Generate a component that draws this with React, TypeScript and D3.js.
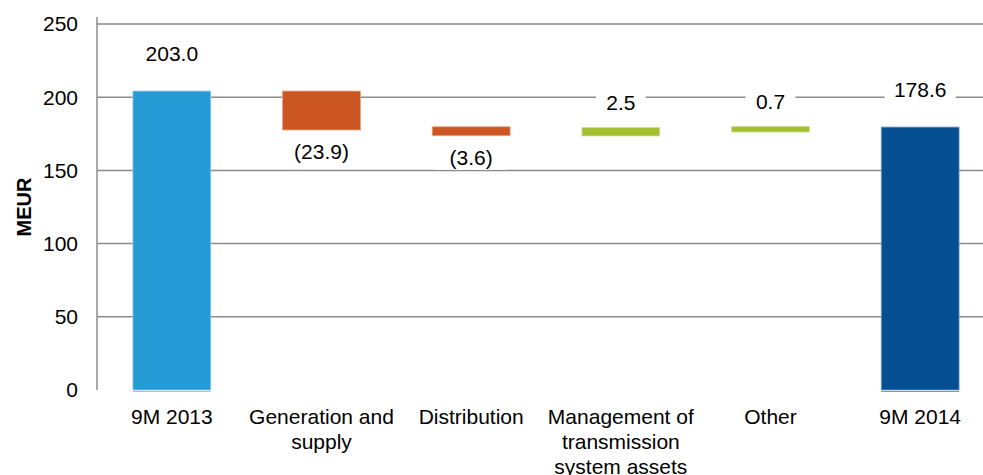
import React from 'react';
import * as d3 from 'd3';

// category labels (line breaks as in the source chart)
const categories = [
  '9M 2013',
  'Generation and\nsupply',
  'Distribution',
  'Management of\ntransmission\nsystem assets',
  'Other',
  '9M 2014',
];

// values shown in the data labels
const labelValues = [203.0, -23.9, -3.6, 2.5, 0.7, 178.6];
const kinds = ['total', 'down', 'down', 'up', 'up', 'total'];

// bar extents as drawn in the picture (MEUR)
const barLow = [0, 177.6, 173.7, 173.5, 176.2, 0];
const barHigh = [204.2, 204.2, 179.8, 179.4, 180.1, 179.6];

const yTicks = [0, 50, 100, 150, 200, 250];

const WIDTH = 983;
const HEIGHT = 475;
const FONT = '"Liberation Sans", Arial, sans-serif';

const fills: Record<string, string> = {
  first: '#259BD6',
  last: '#065092',
  down: '#CC5621',
  up: '#A4BF30',
};
const edges: Record<string, string> = {
  first: '#8FCBEC',
  last: '#6E9FD0',
  down: '#E8A384',
  up: '#D3E39A',
};

const fmt = (v: number) => (v < 0 ? `(${Math.abs(v).toFixed(1)})` : v.toFixed(1));

export default function App() {
  const x = d3.scaleBand<string>()
    .domain(categories)
    .range([97, 995])
    .paddingInner(0.48)
    .paddingOuter(0.24);

  const y = d3.scaleLinear().domain([0, 250]).range([390, 24]);

  const colorKey = (i: number) =>
    kinds[i] === 'total' ? (i === 0 ? 'first' : 'last') : kinds[i];

  return (
    <svg
      width={WIDTH}
      height={HEIGHT}
      style={{ position: 'absolute', left: 0, top: 0, display: 'block', background: '#fff' }}
      fontFamily={FONT}
    >
      {/* gridlines */}
      {yTicks.filter(t => t > 0).map(t => (
        <line
          key={t}
          x1={97}
          x2={WIDTH}
          y1={y(t)}
          y2={y(t)}
          stroke="#8c8c8c"
          strokeWidth={1.5}
        />
      ))}

      {/* y axis */}
      <line x1={97} x2={97} y1={y(250) - 7} y2={y(0)} stroke="#8c8c8c" strokeWidth={1.5} />
      {yTicks.map(t => (
        <text
          key={t}
          x={78}
          y={y(t)}
          dy="0.35em"
          textAnchor="end"
          fontSize={21}
          fill="#000"
        >
          {t}
        </text>
      ))}
      <text
        transform={`translate(24,${(y(0) + y(250)) / 2}) rotate(-90)`}
        dy="0.35em"
        textAnchor="middle"
        fontSize={20}
        fontWeight="bold"
      >
        MEUR
      </text>

      {/* bars */}
      {categories.map((c, i) => {
        const k = colorKey(i);
        const x0 = x(c) ?? 0;
        const top = y(barHigh[i]);
        const bottom = y(barLow[i]);
        return (
          <g key={c}>
            <rect
              x={x0}
              y={top}
              width={x.bandwidth()}
              height={bottom - top}
              fill={fills[k]}
              stroke={edges[k]}
              strokeWidth={0.8}
            />
            {kinds[i] === 'total' && (
              <line
                x1={x0}
                x2={x0 + x.bandwidth()}
                y1={bottom + 1.5}
                y2={bottom + 1.5}
                stroke={edges[k]}
                strokeWidth={1}
              />
            )}
          </g>
        );
      })}

      {/* data labels with white boxes */}
      {categories.map((c, i) => {
        const cx = (x(c) ?? 0) + x.bandwidth() / 2;
        let cy: number;
        if (kinds[i] === 'total') cy = y(barHigh[i]) - 37;
        else if (kinds[i] === 'up') cy = y(barHigh[i]) - 25;
        else cy = y(barLow[i]) + 22;
        const txt = fmt(labelValues[i]);
        const w = txt.length * 10.6 + 18;
        return (
          <g key={`l-${c}`}>
            <rect x={cx - w / 2} y={cy - 12} width={w} height={24} fill="#fff" />
            <text x={cx} y={cy} dy="0.35em" textAnchor="middle" fontSize={21} fill="#000">
              {txt}
            </text>
          </g>
        );
      })}

      {/* category labels */}
      {categories.map(c => {
        const cx = (x(c) ?? 0) + x.bandwidth() / 2;
        return (
          <text key={`c-${c}`} x={cx} y={424} textAnchor="middle" fontSize={21} fill="#000">
            {c.split('\n').map((line, j) => (
              <tspan key={j} x={cx} dy={j === 0 ? 0 : 25}>
                {line}
              </tspan>
            ))}
          </text>
        );
      })}
    </svg>
  );
}
